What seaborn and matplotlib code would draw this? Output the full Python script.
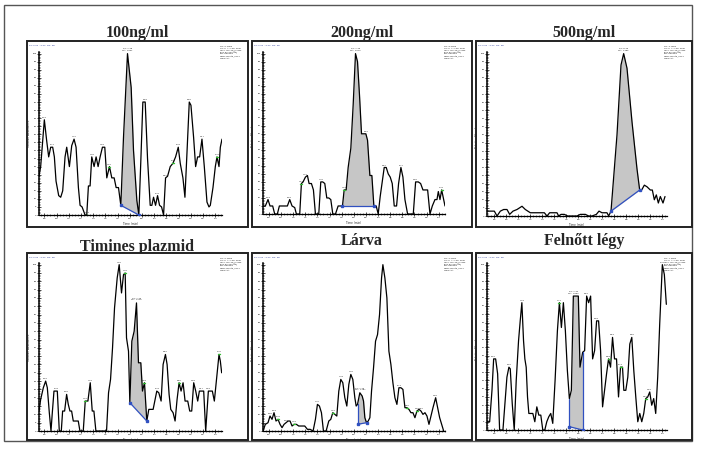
import numpy as np
import pandas as pd
import matplotlib
matplotlib.use("Agg")
import matplotlib.pyplot as plt
from matplotlib.patches import Rectangle
from matplotlib.ticker import MultipleLocator, FuncFormatter
import seaborn as sns

# ---------------- data (scan position, relative abundance %) ----------------
titles = ["100ng/ml", "200ng/ml", "500ng/ml", "Timines plazmid", "Lárva", "Felnőtt légy"]

p1_scan = [57,62,73,80,86,92,98,103,108,116,122,128,135,140,148,155,162,168,175,180,
           186,195,200,205,210,215,222,228,234,240,247,254,260,268,275,282,288,295,302,310,
           322,333,340,350,356,362,368,375,382,390,395,400,406,412,418,424,430,436,442,450,
           458,466,474,480,488,494,500,507,512,520,526,532,538,545,552,560,566,570,578,585,
           590,596,600,605]
p1_abund = [24,30,59,46,36,42,42,36,21,12,11,15,36,42,30,43,47,42,17,6,
            5,0,0,18,18,36,30,36,30,36,42,42,23,30,23,23,17,17,6,48,
            100,79,40,9,0,34,70,70,35,6,6,11,6,12,6,5,0,23,24,30,
            32,36,42,32,23,11,38,70,68,48,30,36,36,47,30,8,5,6,17,30,
            36,30,42,47]

p2_scan = [55,62,70,76,84,90,98,104,112,120,128,135,142,150,155,165,170,175,182,188,
           193,200,206,212,222,228,234,240,246,252,258,264,272,280,293,298,304,310,318,325,
           332,338,344,350,357,363,368,375,381,387,394,400,406,412,418,424,430,436,442,448,
           455,461,468,474,480,488,505,512,520,527,534,540,548,555,562,570,576,580,585,590,
           596,600]
p2_abund = [5,5,9,5,5,0,0,5,5,5,5,9,5,4,0,0,19,20,23,24,
            19,19,15,0,0,20,20,19,10,10,9,0,0,5,5,15,15,29,41,68,
            100,95,74,50,50,50,46,24,24,5,5,0,11,20,29,29,25,23,19,5,
            5,19,29,23,9,0,0,20,20,19,15,15,15,0,5,9,9,14,9,15,
            9,5]

p3_scan = [50,60,72,80,90,100,110,118,128,140,155,165,180,195,210,222,230,238,250,260,
           265,272,282,292,300,320,330,345,355,365,378,386,395,402,410,415,422,440,452,460,
           470,485,500,508,514,522,530,540,546,552,558,564,570,578,584]
p3_abund = [3,3,3,0,3,4,4,1,3,4,6,4,2,2,2,2,0,2,2,2,
            0,1,1,0,0,0,1,1,0,0,1,3,2,2,2,0,3,50,93,100,
            91,58,29,16,16,19,18,16,16,10,13,8,12,8,12]

p4_scan = [57,62,70,77,82,88,93,97,102,108,112,118,124,128,134,140,145,150,155,160,
           168,175,180,190,196,204,211,217,222,228,236,248,260,266,272,278,284,292,298,305,
           311,316,320,326,330,336,343,350,356,363,368,374,381,387,393,400,406,411,417,424,
           430,437,442,448,453,460,466,472,478,484,490,496,504,510,516,522,528,534,539,546,
           552,558,566,572,578,584,590,598,602,606]
p4_abund = [12,19,26,30,26,11,0,11,24,24,24,0,0,12,12,22,16,12,12,6,
            6,6,0,0,18,18,29,12,12,0,0,0,0,23,31,50,74,92,100,83,
            94,95,56,48,17,54,60,77,41,41,24,29,6,13,13,13,19,24,23,18,
            40,46,40,22,13,11,6,19,29,24,29,18,18,12,12,29,24,18,24,24,
            24,0,24,24,24,18,30,46,42,35]

p5_scan = [55,62,70,76,82,88,94,100,106,112,118,124,130,136,142,148,155,162,170,180,
           188,196,205,212,218,224,230,236,244,252,258,264,270,276,282,288,294,300,306,312,
           318,324,330,334,338,345,352,356,360,365,370,375,380,386,392,398,404,410,414,420,
           426,432,438,444,450,456,462,468,474,480,486,492,498,504,510,516,522,528,534,540,
           546,552,558,564,572,578,584,590,596]
p5_abund = [0,4,5,9,7,11,6,7,4,2,4,5,6,6,3,4,4,3,3,3,
            1,1,0,7,16,15,11,0,0,6,7,11,10,9,24,31,29,20,15,28,
            34,31,20,15,16,23,21,18,8,5,6,8,24,38,54,58,70,92,100,92,
            80,48,40,29,20,16,26,26,25,14,14,13,11,11,8,12,13,12,10,11,
            9,4,9,14,20,14,8,4,0]

p6_scan = [50,58,65,70,76,82,88,98,104,110,116,120,126,132,138,145,150,155,160,164,
           168,172,176,182,188,194,200,206,212,218,224,230,236,242,248,255,262,268,274,280,
           286,292,298,304,310,318,325,330,338,344,350,356,362,368,374,380,386,392,398,404,
           410,416,422,428,434,440,446,452,458,462,468,474,480,486,492,498,504,510,516,522,
           528,534,540,546,552,558,564,570,578,584,590]
p6_abund = [5,5,24,43,43,34,0,0,16,32,38,37,16,0,30,54,66,77,54,43,
            38,20,10,10,10,5,14,9,9,0,0,5,8,10,4,30,60,77,62,77,
            60,36,19,24,81,81,81,38,47,48,81,77,81,43,48,66,66,48,14,24,
            34,43,38,56,43,43,20,38,38,24,24,32,52,56,36,20,5,10,5,10,
            19,20,23,15,19,10,32,64,100,94,76]

# integrated peak: start scan, end scan, baseline abundance at start / end
p1_area = [302, 356, 6, 0]
p2_area = [293, 387, 5, 5]
p3_area = [422, 508, 3, 16]
p4_area = [330, 381, 17, 6]
p5_area = [338, 365, 4, 5]
p6_area = [298, 338, 2, 0]

# scan range of each time axis
p1_range = [57, 605]
p2_range = [55, 600]
p3_range = [50, 590]
p4_range = [57, 607]
p5_range = [55, 600]
p6_range = [50, 592]

# labelled peaks (scan) and which of them carry a green marker
p1_peaks = [73, 98, 162, 200, 215, 247, 268, 375, 412, 436, 458, 474, 507, 545, 590]
p1_green = [200, 268, 458, 590]
p2_peaks = [70, 135, 170, 182, 228, 298, 363, 418, 468, 512, 590]
p2_green = [170, 298, 590]
p3_peaks = []
p3_green = []
p4_peaks = [77, 108, 140, 196, 211, 298, 316, 374, 411, 437, 478, 522, 546, 566, 598]
p4_green = [196, 316, 374, 478, 598]
p5_peaks = [76, 88, 100, 124, 148, 218, 264, 288, 318, 462, 486, 516, 528, 572]
p5_green = [100, 148, 264, 486, 516]
p6_peaks = [70, 116, 155, 268, 350, 380, 416, 428, 452, 486, 528, 540, 578]
p6_green = [268, 416, 452, 528]

main_rt = ["RT: 7.48\nMA: 2831", "RT: 7.46\nMA: 9573", "RT: 8.46\nMA: 4485",
           "RT: 7.46\nMA: 3219", "RT: 7.45\nMA: 1187", "RT: 7.44\nMA: 4390"]
nl_text = ["NL: 5.40E3", "NL: 8.24E3", "NL: 3.75E4", "NL: 5.46E3", "NL: 2.02E4", "NL: 7.32E2"]

panels = [
    (p1_scan, p1_abund, p1_area, p1_range, p1_peaks, p1_green),
    (p2_scan, p2_abund, p2_area, p2_range, p2_peaks, p2_green),
    (p3_scan, p3_abund, p3_area, p3_range, p3_peaks, p3_green),
    (p4_scan, p4_abund, p4_area, p4_range, p4_peaks, p4_green),
    (p5_scan, p5_abund, p5_area, p5_range, p5_peaks, p5_green),
    (p6_scan, p6_abund, p6_area, p6_range, p6_peaks, p6_green),
]

# ---------------- layout (pixels) ----------------
W, H = 711, 473
boxes = [(27, 41, 248, 227), (252, 41, 472, 227), (476, 41, 692, 227),
         (27, 253, 248, 440), (252, 253, 472, 440), (476, 253, 692, 440)]
axes_px = [(39, 52, 222, 215), (263, 52, 445, 214), (487, 52, 667, 216),
           (39, 263, 222, 431), (263, 263, 445, 431), (487, 263, 667, 430)]
title_y = [37, 37, 37, 251, 245, 245]

sns.set_theme(style="white")
plt.rcParams["font.family"] = ["DejaVu Sans"]

fig = plt.figure(figsize=(W / 100, H / 100), dpi=100)


def fx(x):
    return x / W


def fy(y):
    return 1 - y / H


fig.add_artist(Rectangle((fx(4), fy(441)), fx(692) - fx(4), fy(5) - fy(441),
                         transform=fig.transFigure, fill=False, ec="#555555", lw=1.0, zorder=0.5))

BLUE = "#3050c0"
TINY = 1.6

for i, (scan, abund, area, xr, peaks, green) in enumerate(panels):
    scan = np.asarray(scan, float)
    abund = np.asarray(abund, float)
    bl, bt, br, bb = boxes[i]
    fig.add_artist(Rectangle((fx(bl), fy(bb)), fx(br) - fx(bl), fy(bt) - fy(bb),
                             transform=fig.transFigure, fc="white", ec="#222222", lw=1.4, zorder=4))
    fig.text(fx((bl + br) / 2), fy(title_y[i]), titles[i], ha="center", va="baseline",
             fontsize=11.5, fontweight="bold", family=["Liberation Serif", "DejaVu Serif"], zorder=3)
    # small header texts
    fig.text(fx(bl + 2), fy(bt + 4), "RT: 6.50 - 9.50  SM: 5B", fontsize=TINY, color="#3040a0",
             va="center", ha="left", zorder=6)
    fig.text(fx(br - 28), fy(bt + 5),
             nl_text[i] + "\nTIC F: + c ESI SRM\nms2 715.40@cid35\n[601.80-602.80]\nMS Genesis\n"
             "MEDT1Minta_2011\nSTDDATA",
             fontsize=TINY, va="top", ha="left", linespacing=1.5, zorder=6)

    l, tp, r, b = axes_px[i]
    ax = fig.add_axes([fx(l), fy(b), fx(r) - fx(l), fy(tp) - fy(b)], zorder=5)
    ax.set_facecolor("none")

    x0, x1 = xr

    def tmin(v, x0=x0, x1=x1):
        return 6.5 + 3.0 * (v - x0) / (x1 - x0)

    ts, te, b0, b1 = area
    inside = (scan > ts) & (scan < te)
    xs = np.concatenate([[ts], scan[inside], [te]])
    ys = np.interp(xs, scan, abund)
    base = np.interp(xs, [ts, te], [b0, b1])
    ax.fill_between(xs, base, ys, color="#c6c6c6", lw=0, zorder=1)

    df = pd.DataFrame({"scan": scan, "abund": abund})
    sns.lineplot(data=df, x="scan", y="abund", ax=ax, color="black", lw=0.9,
                 estimator=None, sort=False, zorder=3)

    ax.plot([ts, te], [b0, b1], color=BLUE, lw=0.9, zorder=4)
    ax.plot([ts, te], [b0, b1], ls="none", marker="s", ms=1.8, color=BLUE, zorder=4)
    ax.plot([ts, ts], [b0, np.interp(ts, scan, abund)], color=BLUE, lw=0.9, zorder=4)
    ax.plot([te, te], [b1, np.interp(te, scan, abund)], color=BLUE, lw=0.9, zorder=4)

    # apex annotation of integrated peak
    apex_i = np.argmax(np.where((scan >= ts) & (scan <= te), abund, -1))
    ax.text(scan[apex_i], abund[apex_i] + 1.5, main_rt[i], fontsize=TINY, ha="center", va="bottom",
            linespacing=1.4, clip_on=False)

    for pk in peaks:
        v = np.interp(pk, scan, abund)
        ax.text(pk, v + 1.2, f"{tmin(pk):.2f}", fontsize=TINY, ha="center", va="bottom", clip_on=False)
        if pk in green:
            ax.plot([pk - 3, pk + 3], [v, v], color="#33bb33", lw=1.0, zorder=5)

    ax.set_xlim(x0, x1)
    ax.set_ylim(0, 101)
    sns.despine(ax=ax)
    ax.spines["left"].set_linewidth(1.1)
    ax.spines["bottom"].set_linewidth(0.9)
    ax.spines["left"].set_color("black")
    ax.spines["bottom"].set_color("black")
    ax.yaxis.set_major_locator(MultipleLocator(5))
    ax.yaxis.set_minor_locator(MultipleLocator(1))
    ax.xaxis.set_major_locator(MultipleLocator((x1 - x0) / 15))
    ax.xaxis.set_minor_locator(MultipleLocator((x1 - x0) / 60))
    ax.xaxis.set_major_formatter(FuncFormatter(lambda v, p, f=tmin: f"{f(v):.1f}"))
    ax.tick_params(axis="both", which="major", direction="inout", length=2.5, width=0.5,
                   labelsize=TINY, pad=0.6, left=True, bottom=True, colors="black")
    ax.tick_params(axis="both", which="minor", direction="inout", length=1.3, width=0.4,
                   left=True, bottom=True)
    ax.set_xlabel("Time (min)", fontsize=2.0, labelpad=1)
    ax.set_ylabel("Relative Abundance", fontsize=2.0, labelpad=1)

fig.savefig("out.png", dpi=100, facecolor="white")
